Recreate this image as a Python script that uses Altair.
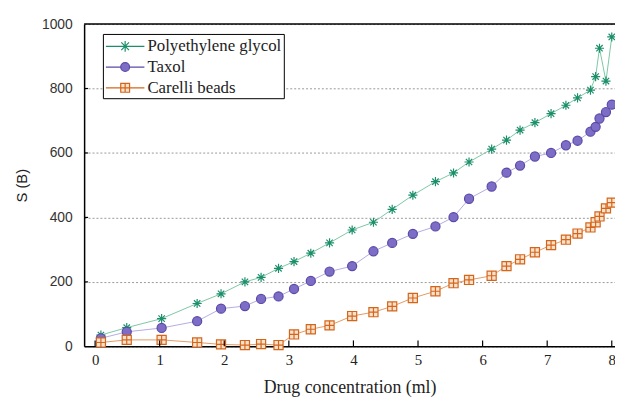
import altair as alt
import pandas as pd

# ---- data ----
conc = [0.09, 0.49, 1.03, 1.58, 1.95, 2.32, 2.57, 2.84, 3.08, 3.34, 3.63, 3.98,
        4.31, 4.60, 4.92, 5.27, 5.55, 5.79, 6.14, 6.37, 6.58, 6.81, 7.06, 7.29,
        7.47, 7.67, 7.75, 7.81, 7.91, 8.00]
peg = [35, 58, 86, 133, 163, 200, 214, 242, 263, 289, 321, 361,
       385, 425, 469, 511, 538, 572, 612, 640, 671, 694, 722, 748,
       771, 795, 837, 925, 823, 960]
taxol = [25, 45, 57, 78, 117, 125, 147, 155, 178, 203, 232, 249,
         295, 321, 349, 372, 401, 458, 496, 539, 561, 589, 600, 624,
         638, 666, 681, 707, 727, 750]
carelli = [12, 20, 20, 12, 6, 4, 7, 4, 37, 53, 65, 94,
           106, 124, 150, 171, 196, 206, 219, 249, 270, 292, 314, 331,
           350, 369, 385, 403, 428, 446]
series_names = ["Polyethylene glycol", "Taxol", "Carelli beads"]
x_ticks = [0, 1, 2, 3, 4, 5, 6, 7, 8]
y_ticks = [0, 200, 400, 600, 800, 1000]

rows = []
for name, vals in zip(series_names, [peg, taxol, carelli]):
    for xv, yv in zip(conc, vals):
        rows.append({"x": xv, "value": yv, "series": name})
df = pd.DataFrame(rows)

W, H = 537, 326
SERIF = "Liberation Serif"
SANS = "Liberation Sans"

marker_stroke = ["#1b8f6a", "#5a4aa6", "#d4661c"]
marker_fill = ["transparent", "#7d6dc6", "#fbe2cc"]
line_colors = ["#7cc7a4", "#b4abe3", "#e49a62"]

star = "M0,-1V1M-1,0H1M-0.7,-0.7L0.7,0.7M-0.7,0.7L0.7,-0.7"
boxplus = "M-1,-1H1V1H-1ZM0,-1V1M-1,0H1"
marker_shapes = [star, "circle", boxplus]

leg_star = "M-2,0H2M0,-0.56V0.56M-0.4,-0.4L0.4,0.4M-0.4,0.4L0.4,-0.4"
leg_circle = "M-2,0H-0.46M0.46,0H2M-0.46,0A0.46,0.46 0 1,0 0.46,0A0.46,0.46 0 1,0 -0.46,0Z"
leg_box = "M-2,0H-0.46M0.46,0H2M-0.46,-0.46H0.46V0.46H-0.46ZM0,-0.46V0.46M-0.46,0H0.46"
legend_shapes = [leg_star, leg_circle, leg_box]

xs = alt.X("x:Q", scale=alt.Scale(domain=[-0.17, 8.05], nice=False, zero=False),
           axis=alt.Axis(values=x_ticks, title="Drug concentration (ml)", grid=False,
                         ticks=False, tickSize=0, labelFont=SERIF,
                         labelFontSize=15, labelColor="#222", labelPadding=6,
                         titleFont=SERIF, titleFontSize=18,
                         titleFontWeight="normal", titleColor="#222", titlePadding=12,
                         domainColor="black", domainWidth=1.5, format="d"))
ys = alt.Y("value:Q", scale=alt.Scale(domain=[0, 1000], nice=False),
           axis=alt.Axis(values=y_ticks, title="S (B)", grid=True, gridDash=[2, 2],
                         gridColor="#999", ticks=False, tickSize=0, format="d",
                         labelFont=SANS, labelFontSize=14,
                         labelColor="#333", labelPadding=12,
                         titleFont=SANS, titleFontSize=15,
                         titleFontWeight="normal", titleColor="#222", titlePadding=12,
                         domainColor="black", domainWidth=1.5))

base = alt.Chart(df)

lines = base.mark_line(strokeWidth=1).encode(
    x=xs, y=ys,
    color=alt.Color("series:N", scale=alt.Scale(domain=series_names, range=line_colors),
                    legend=None),
)

points = base.mark_point(opacity=1, strokeWidth=1.2, size=85).encode(
    x=xs, y=ys,
    stroke=alt.Stroke("series:N", scale=alt.Scale(domain=series_names, range=marker_stroke),
                      legend=None),
    fill=alt.Fill("series:N", scale=alt.Scale(domain=series_names, range=marker_fill),
                  legend=None),
    shape=alt.Shape("series:N", scale=alt.Scale(domain=series_names, range=marker_shapes),
                    legend=None),
)

leg = alt.Legend(title=None, orient="none", legendX=19, legendY=10,
                 strokeColor="black", fillColor="white", padding=2,
                 labelFont=SERIF, labelFontSize=17, labelColor="#222",
                 symbolSize=380, symbolStrokeWidth=1.2, labelOffset=12,
                 symbolOffset=10, rowPadding=2)

legend_layer = base.transform_filter("datum.x < -99").mark_point(
    opacity=1, strokeWidth=1.2).encode(
    x=xs, y=ys,
    stroke=alt.Stroke("series:N", scale=alt.Scale(domain=series_names, range=marker_stroke),
                      legend=leg),
    fill=alt.Fill("series:N", scale=alt.Scale(domain=series_names, range=marker_fill),
                  legend=leg),
    shape=alt.Shape("series:N", scale=alt.Scale(domain=series_names, range=legend_shapes),
                    legend=leg),
)

top_border = alt.Chart(pd.DataFrame({"y": [y_ticks[-1]]})).mark_rule(
    color="black", strokeWidth=1.5).encode(y=alt.Y("y:Q"))

xtick_marks = alt.Chart(pd.DataFrame({"t": x_ticks})).mark_rule(
    color="black", strokeWidth=1.2).encode(
    x=alt.X("t:Q"), y=alt.value(H - 6), y2=alt.value(H))

ytick_marks = alt.Chart(pd.DataFrame({"t": y_ticks[1:-1]})).mark_rule(
    color="black", strokeWidth=1.2).encode(
    y=alt.Y("t:Q"), x=alt.value(0), x2=alt.value(4))

chart = alt.layer(top_border, lines, points, legend_layer, xtick_marks, ytick_marks).resolve_scale(
    color="independent", stroke="independent", fill="independent", shape="independent"
).properties(
    width=W, height=H,
    autosize=alt.AutoSizeParams(type="none"),
    padding={"left": 77, "top": 14, "right": 0, "bottom": 49},
).configure(
    background="white",
    font=SERIF,
    view={"stroke": None},
    legend={"labelFont": SERIF, "labelFontSize": 17, "labelColor": "#222"},
    style={"guide-label": {"font": SERIF}},
)

chart.save("out.html", embed_options={"renderer": "svg", "actions": False})
